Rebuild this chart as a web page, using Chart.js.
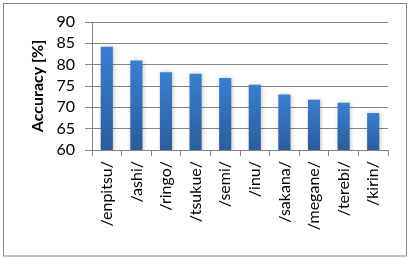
<!DOCTYPE html>
<html><head><meta charset="utf-8">
<script src="https://cdn.jsdelivr.net/npm/chart.js@4/dist/chart.umd.min.js"></script>
<style>html,body{margin:0;padding:0;background:#fff}#wrap{width:409px;height:259px;position:relative}</style>
</head><body><div id="wrap"><canvas id="c" width="409" height="259"></canvas></div>
<script>
const categories = ['/enpitsu/','/ashi/','/ringo/','/tsukue/','/semi/','/inu/','/sakana/','/megane/','/terebi/','/kirin/'];
const accuracy = [84.2, 81.0, 78.2, 77.9, 76.9, 75.3, 73.0, 71.8, 71.1, 68.7];
const yTicks = [60, 65, 70, 75, 80, 85, 90];
const yTitle = 'Accuracy [%]';

const GRAY = '#868686';
const borderPlugin = {
  id: 'outerBorder',
  afterDraw(chart) {
    const c = chart.ctx; c.save();
    c.strokeStyle = GRAY; c.lineWidth = 1;
    c.strokeRect(3.5, 3.5, 403, 252.5);
    c.restore();
  }
};
const shadowPlugin = {
  id: 'barShadow',
  beforeDatasetsDraw(chart) {
    const c = chart.ctx; c.save();
    c.shadowColor = 'rgba(0,0,0,0.22)'; c.shadowBlur = 4; c.shadowOffsetX = 1; c.shadowOffsetY = 0;
  },
  afterDatasetsDraw(chart) { chart.ctx.restore(); }
};
function barFill(context) {
  const chart = context.chart;
  const area = chart.chartArea;
  if (!area || context.parsed == null) return '#3a7dce';
  const ys = chart.scales.y;
  const top = ys.getPixelForValue(context.parsed.y);
  const bottom = ys.getPixelForValue(ys.min);
  if (!isFinite(top) || !isFinite(bottom) || bottom <= top) return '#3a7dce';
  const g = chart.ctx.createLinearGradient(0, top, 0, bottom);
  g.addColorStop(0, '#3b7fd0');
  g.addColorStop(1, '#2c5c9c');
  return g;
}
new Chart(document.getElementById('c'), {
  type: 'bar',
  data: { labels: categories, datasets: [{ data: accuracy, backgroundColor: barFill, borderWidth: 0, barPercentage: 0.41, categoryPercentage: 1 }] },
  options: {
    responsive: false, animation: false, devicePixelRatio: 1,
    layout: { padding: { top: 22, right: 21, left: 0, bottom: 0 } },
    plugins: { legend: { display: false }, tooltip: { enabled: false } },
    scales: {
      x: {
        afterFit(s) { s.height = 109; },
        grid: { drawOnChartArea: false, drawTicks: true, tickLength: 6, color: GRAY, offset: true },
        border: { color: GRAY, width: 1 },
        ticks: { minRotation: 90, maxRotation: 90, autoSkip: false, padding: 5, color: '#000', font: { family: 'Lato', size: 16 } }
      },
      y: {
        min: 60, max: 90,
        afterFit(s) { s.width = 92; },
        afterBuildTicks(s) { s.ticks = yTicks.map(v => ({ value: v })); },
        grid: { color: GRAY, lineWidth: 1, tickLength: 7, drawTicks: true },
        border: { color: GRAY, width: 1 },
        ticks: { autoSkip: false, stepSize: 5, padding: 10, color: '#000', font: { family: 'Lato', size: 16 } },
        title: { display: true, text: yTitle, color: '#000', font: { family: 'Lato', size: 16, weight: 'bold' }, padding: { top: 28, bottom: 0 } }
      }
    }
  },
  plugins: [borderPlugin, shadowPlugin]
});
</script></body></html>
